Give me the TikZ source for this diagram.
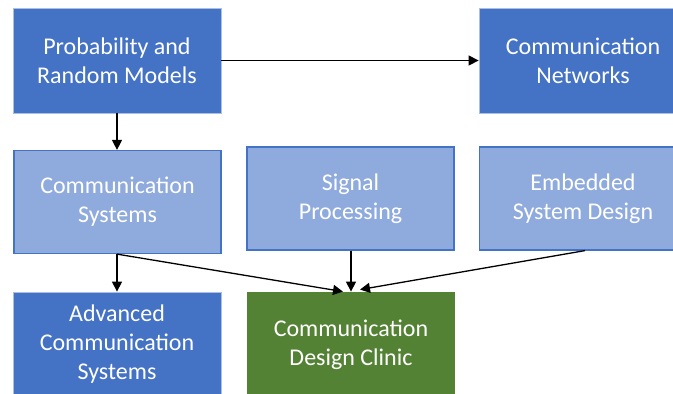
\documentclass[tikz,border=0pt]{standalone}
\usepackage{fontspec}
\setmainfont{Carlito}
\usetikzlibrary{arrows.meta}
\definecolor{darkb}{HTML}{4472C4}
\definecolor{lightb}{HTML}{8FAADC}
\definecolor{greenc}{HTML}{548235}
\definecolor{edgeb}{HTML}{A9BFE6}
\begin{document}
\begin{tikzpicture}[x=1pt,y=-1pt,
  box/.style={minimum width=208pt,minimum height=105pt,inner sep=0pt,text=white,align=center,
    font=\fontsize{24}{29}\selectfont,line width=0.8pt},
  dbox/.style={box,fill=darkb,draw=edgeb},
  lbox/.style={box,fill=lightb,draw=darkb,line width=1.2pt,minimum width=207pt,minimum height=103pt},
  gbox/.style={box,fill=greenc},
  conn/.style={line width=1.3pt,-{Triangle[length=10pt,width=10pt]}}]
\useasboundingbox (0,0) rectangle (673,394);
\begin{scope}
\clip (0,0) rectangle (673,394);
\node[dbox] (prob) at (117,60.5) {Probability and\\Random Models};
\node[dbox] (net) at (583,60.5) {Communication\\Networks};
\node[lbox] (csys) at (117.5,202) {Communication\\Systems};
\node[lbox] (sig) at (350.5,198.5) {Signal\\Processing};
\node[lbox] (emb) at (583,198.5) {Embedded\\System Design};
\node[dbox] (adv) at (117,344.5) {Advanced\\Communication\\Systems};
\node[gbox] (clin) at (351,344.5) {Communication\\Design Clinic};
\end{scope}
\draw[conn] (prob.east) -- (net.west);
\draw[conn] (prob.south) -- (csys.north -| prob.south);
\draw[conn] (csys.south -| adv.north) -- (adv.north);
\draw[conn] (csys.south -| adv.north) -- ([xshift=-8pt]clin.north);
\draw[conn] (sig.south -| clin.north) -- (clin.north);
\draw[conn] ([xshift=2pt]emb.south) -- ([xshift=9pt,yshift=2pt]clin.north);
\end{tikzpicture}
\end{document}
